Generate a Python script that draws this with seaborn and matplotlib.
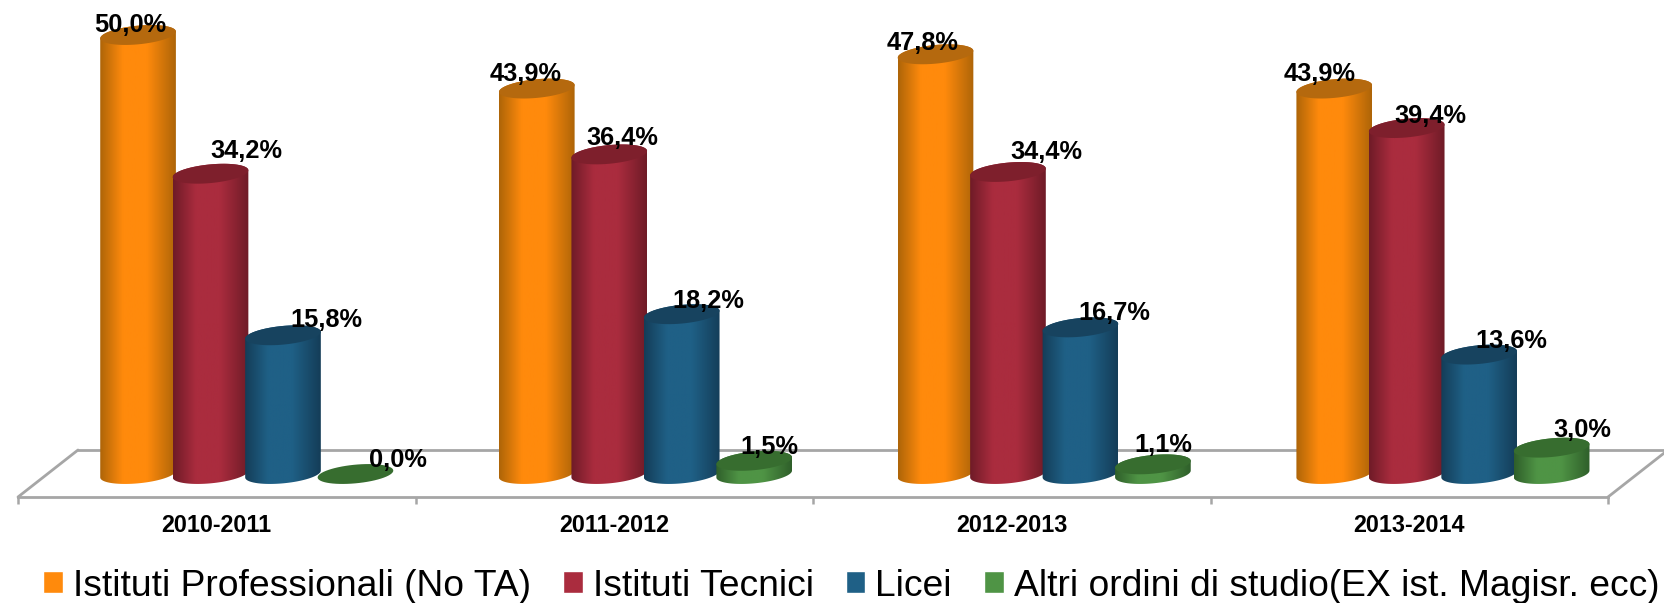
import numpy as np
import pandas as pd
import matplotlib.pyplot as plt
import seaborn as sns
from matplotlib.colors import LinearSegmentedColormap
from matplotlib.patches import PathPatch
from matplotlib.path import Path

years = ["2010-2011", "2011-2012", "2012-2013", "2013-2014"]
series_names = [
    "Istituti Professionali (No TA)",
    "Istituti Tecnici",
    "Licei",
    "Altri ordini di studio(EX ist. Magisr. ecc)",
]
professionali = [50.0, 43.9, 47.8, 43.9]
tecnici = [34.2, 36.4, 34.4, 39.4]
licei = [15.8, 18.2, 16.7, 13.6]
altri = [0.0, 1.5, 1.1, 3.0]

# (edge, middle, cap) of each cylinder
shades = [
    ("#AE6508", "#FF8A0C", "#B5690E"),
    ("#6F1B27", "#AA2C3E", "#7E1F2C"),
    ("#143D58", "#1F6086", "#17435F"),
    ("#2F5F2A", "#4F9445", "#376D2F"),
]

# hand placed label offsets in pixels, per series then per year
label_dx = [[-8, -11, -13, -15], [36, 13, 38, 24], [43, 27, 34, 32], [42, 15, 10, 31]]
label_dy = [[10, 15, 11, 15], [23, 16, 20, 12], [15, 13, 14, 14], [14, 14, 19, 18]]

W, H = 1664, 603
CAP_A, CAP_B, CAP_TILT = 38, 9.3, np.deg2rad(5.5)


def ellipse(cx, cy, sx, sy, start, stop):
    """Tilted ellipse arc around a data point, the radii are given in pixels"""
    t = np.linspace(start, stop, 60)
    px = CAP_A * np.cos(t) * np.cos(CAP_TILT) - CAP_B * np.sin(t) * np.sin(CAP_TILT)
    py = CAP_A * np.cos(t) * np.sin(CAP_TILT) + CAP_B * np.sin(t) * np.cos(CAP_TILT)
    return np.column_stack([cx + px / sx, cy + py / sy])


sns.set_theme(style="white")
plt.rcParams["font.family"] = ["Liberation Sans", "DejaVu Sans"]

df = pd.DataFrame(
    {
        "year": years * 4,
        "serie": np.repeat(series_names, 4),
        "value": professionali + tecnici + licei + altri,
    }
)

fig = plt.figure(figsize=(W / 100, H / 100), dpi=100, facecolor="white")

# floor of the 3D chart, its front edge is the real category axis
floor_ax = fig.add_axes([18 / W, (H - 497) / H, 1590 / W, 47 / H], zorder=0)
floor_ax.set_xlim(-0.5, 3.5)
floor_ax.set_ylim(0, 1)
floor_ax.set_yticks([])
floor_ax.set_xticks(np.arange(-0.5, 4, 1), labels=[])
floor_ax.set_xticks(range(4), labels=years, minor=True)
floor_ax.tick_params(axis="x", which="major", length=5, width=1.8, color="#A6A6A6", bottom=True)
floor_ax.tick_params(axis="x", which="minor", length=0, pad=12, labelsize=16.8)
for tick in floor_ax.get_xticklabels(minor=True):
    tick.set_fontweight("bold")
    tick.set_color("black")
for name, spine in floor_ax.spines.items():
    spine.set_visible(name == "bottom")
    spine.set_color("#A6A6A6")
    spine.set_linewidth(2)
skew = 60 / 1590
floor_ax.plot([skew, 1 + skew], [1, 1], color="#A6A6A6", lw=2, transform=floor_ax.transAxes, clip_on=False)
floor_ax.plot([0, skew], [0, 1], color="#A6A6A6", lw=2, transform=floor_ax.transAxes, clip_on=False)
floor_ax.plot([1, 1 + skew], [0, 1], color="#A6A6A6", lw=2, transform=floor_ax.transAxes, clip_on=False)

# bars live in their own axes, shifted to the right like on the original
ax = fig.add_axes([47.4 / W, (H - 474) / H, 1594.9 / W, 474 / H], zorder=1)
ax.patch.set_alpha(0)
sns.barplot(
    data=df,
    x="year",
    y="value",
    hue="serie",
    hue_order=series_names,
    order=years,
    palette=[s[1] for s in shades],
    width=0.727,
    gap=0,
    saturation=1,
    ax=ax,
)
ax.set_xlim(-0.5, 3.5)
ax.set_ylim(0, 474 / 8.78)

sns.move_legend(
    ax,
    loc="center left",
    bbox_to_anchor=(43 / W, (H - 586) / H),
    bbox_transform=fig.transFigure,
    ncol=4,
    title=None,
    frameon=False,
    fontsize=26.8,
    labelcolor="black",
    handlelength=0.53,
    handleheight=0.53,
    handletextpad=0.27,
    columnspacing=0.86,
    borderpad=0,
    borderaxespad=0,
)

fig.canvas.draw()
sx = ax.transData.transform((1, 0))[0] - ax.transData.transform((0, 0))[0]
sy = ax.transData.transform((0, 1))[1] - ax.transData.transform((0, 0))[1]

# turn each flat bar into a shaded cylinder
for s, container in enumerate(ax.containers):
    edge, middle, cap = shades[s]
    cmap = LinearSegmentedColormap.from_list(
        "side", [(0, edge), (0.3, middle), (0.62, middle), (1, edge)]
    )
    for i, bar in enumerate(container):
        bar.set_visible(False)
        cx = bar.get_x() + bar.get_width() / 2
        top = bar.get_height()
        z = 2 + s

        if top > 0:
            verts = np.vstack(
                [
                    ellipse(cx, 0, sx, sy, np.pi, 2 * np.pi),
                    ellipse(cx, top, sx, sy, 0, np.pi),
                ]
            )
            side = PathPatch(Path(verts), fc="none", ec="none", transform=ax.transData, zorder=z)
            ax.add_patch(side)
            half = CAP_A / sx
            im = ax.imshow(
                np.linspace(0, 1, 128)[None, :],
                cmap=cmap,
                extent=(cx - half, cx + half, -20 / sy, top + 20 / sy),
                aspect="auto",
                zorder=z,
            )
            im.set_clip_path(side)
            im.set_clip_box(fig.bbox)

        ax.add_patch(
            PathPatch(
                Path(ellipse(cx, top, sx, sy, 0, 2 * np.pi)),
                fc=cap,
                ec="none",
                transform=ax.transData,
                zorder=z + 0.5,
                clip_on=False,
            )
        )
        ax.annotate(
            f"{top:.1f}%".replace(".", ","),
            (cx, top),
            xytext=(label_dx[s][i], label_dy[s][i]),
            textcoords="offset pixels",
            ha="center",
            va="center",
            fontsize=18.3,
            fontweight="bold",
            color="black",
            zorder=10,
            annotation_clip=False,
        )

ax.set_xlim(-0.5, 3.5)
ax.set_ylim(0, 474 / 8.78)
ax.set_xticks([])
ax.set_yticks([])
ax.set_xlabel("")
ax.set_ylabel("")
sns.despine(ax=ax, left=True, bottom=True)

fig.savefig("out.png", dpi=100)
